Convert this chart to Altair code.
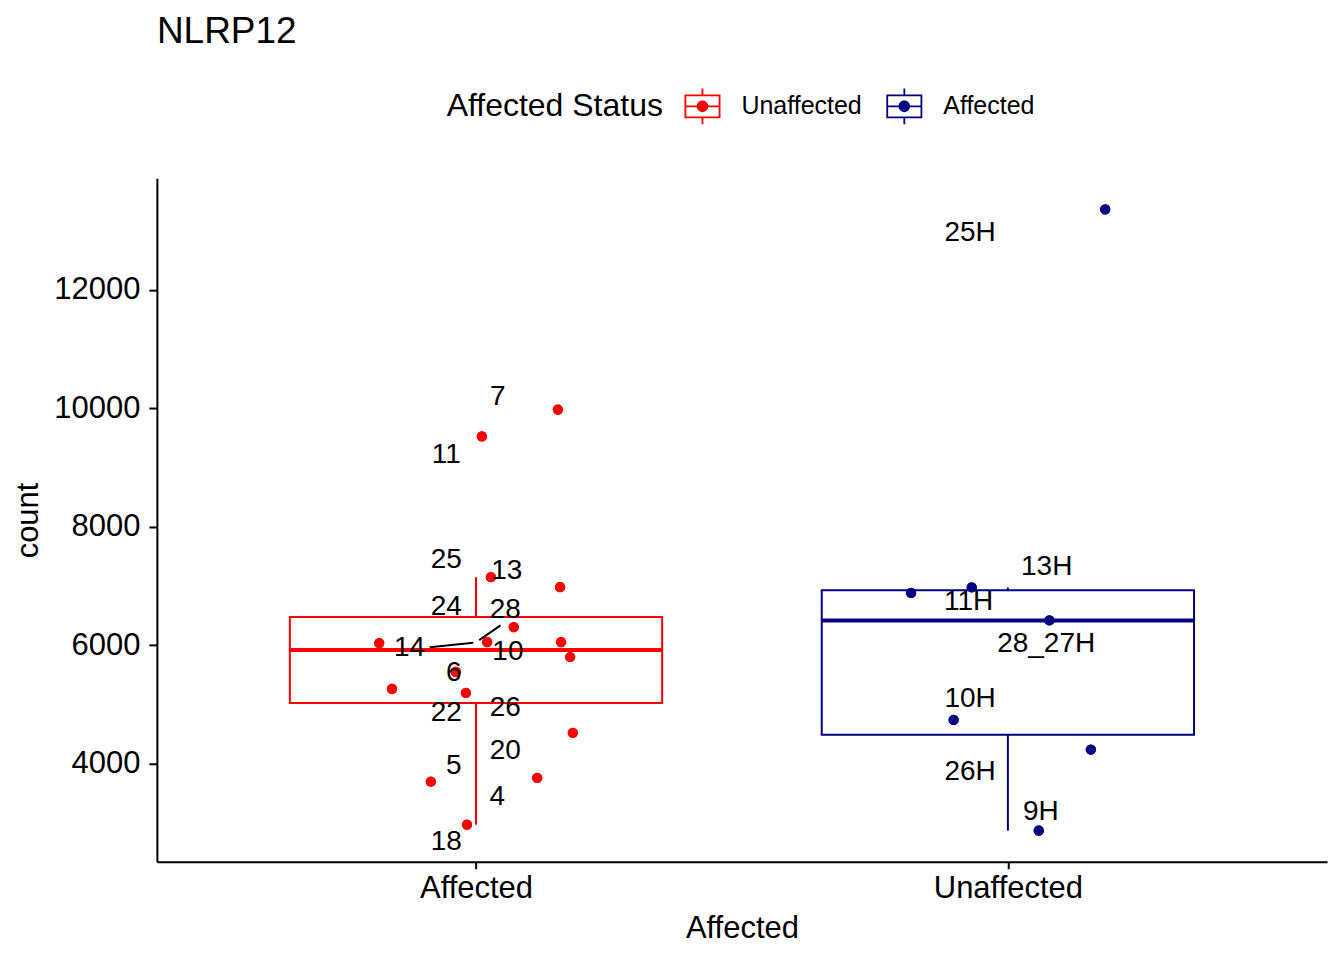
import altair as alt
import numpy as np
import pandas as pd

# ---------------- data ----------------
groups = ["Affected", "Unaffected"]          # x categories
status = ["Unaffected", "Affected"]          # legend value of each x group (as in reference)
colors = ["#FF0000", "#000080"]

red_counts = [9978, 9523, 7146, 6978, 6303, 6034, 6051, 6051, 5798, 5545, 5258, 5191, 4517, 3758, 3691, 2966]
red_jitter = [0.154, 0.011, 0.028, 0.158, 0.071, -0.182, 0.021, 0.160, 0.177, -0.038, -0.158, -0.019, 0.182, 0.115, -0.085, -0.017]

blue_counts = [13360, 6881, 6973, 6416, 4736, 4235, 2865]
blue_jitter = [0.183, -0.182, -0.068, 0.078, -0.102, 0.156, 0.058]

red_labels = ["7", "11", "25", "13", "24", "28", "14", "10", "6", "22", "26", "20", "5", "4", "18"]
red_label_dx = [0.041, -0.056, -0.056, 0.058, -0.056, 0.055, -0.125, 0.060, -0.042, -0.056, 0.055, 0.055, -0.042, 0.040, -0.056]
red_label_y = [10185, 9211, 7433, 7247, 6640, 6585, 5944, 5887, 5533, 4859, 4933, 4218, 3949, 3433, 2666]

blue_labels = ["25H", "13H", "11H", "28_27H", "10H", "26H", "9H"]
blue_label_dx = [-0.071, 0.073, -0.074, 0.072, -0.071, -0.071, 0.062]
blue_label_y = [12966, 7320, 6720, 6013, 5090, 3848, 3173]

# repel segments (label end -> point end), group "Affected"
seg_dx1 = [-0.087, 0.006]
seg_y1 = [5961, 6084]
seg_dx2 = [-0.005, 0.046]
seg_y2 = [6039, 6332]

# ---------------- tables ----------------
counts_by_group = [red_counts, blue_counts]
jitter_by_group = [red_jitter, blue_jitter]

pts = pd.DataFrame({
    "group": [groups[g] for g in range(2) for _ in counts_by_group[g]],
    "status": [status[g] for g in range(2) for _ in counts_by_group[g]],
    "x": [g + 1 + j for g in range(2) for j in jitter_by_group[g]],
    "count": [c for g in range(2) for c in counts_by_group[g]],
})

labs = pd.DataFrame({
    "label": red_labels + blue_labels,
    "x": [1 + d for d in red_label_dx] + [2 + d for d in blue_label_dx],
    "y": red_label_y + blue_label_y,
})

segs = pd.DataFrame({
    "x": [1 + d for d in seg_dx1], "y": seg_y1,
    "x2": [1 + d for d in seg_dx2], "y2": seg_y2,
})

rows = []
for g in range(2):
    v = np.array(counts_by_group[g], dtype=float)
    q1, med, q3 = np.percentile(v, [25, 50, 75])
    iqr = q3 - q1
    lo = v[v >= q1 - 1.5 * iqr].min()
    hi = v[v <= q3 + 1.5 * iqr].max()
    rows.append(dict(status=status[g], pos=g + 1, left=g + 1 - 0.35, right=g + 1 + 0.35,
                     q1=q1, med=med, q3=q3, lo=lo, hi=hi))
box = pd.DataFrame(rows)

allv = np.array(red_counts + blue_counts, dtype=float)
span = allv.max() - allv.min()
ydom = [allv.min() - 0.05 * span, allv.max() + 0.05 * span]

FONT = "Liberation Sans"

xscale = alt.Scale(domain=[0.4, 2.6], nice=False, zero=False)
yscale = alt.Scale(domain=ydom, nice=False, zero=False)
cscale = alt.Scale(domain=status, range=colors)

xaxis = alt.Axis(values=[1, 2], labelExpr="datum.value == 1 ? 'Affected' : 'Unaffected'",
                 title="Affected", labelAngle=0, tickSize=7, tickWidth=2, domainWidth=2,
                 labelPadding=5, titlePadding=10, grid=False)
yaxis = alt.Axis(values=[4000, 6000, 8000, 10000, 12000], format="d", title="count",
                 tickSize=8, tickWidth=2, domainWidth=2, labelPadding=9, titlePadding=9, grid=False)

GLYPH = ("M-1,-0.658H1V0.658H-1Z"
         "M-0.9,-0.558V0.558H0.9V-0.558Z"
         "M-0.9,-0.05H0.9V0.05H-0.9Z"
         "M-0.05,-0.99H0.05V-0.658H-0.05Z"
         "M-0.05,0.658H0.05V0.99H-0.05Z"
         "M-0.32,0A0.32,0.32,0,1,1,0.32,0A0.32,0.32,0,1,1,-0.32,0Z")

legend = alt.Legend(title="Affected Status", orient="none", legendX=290, legendY=-90,
                    direction="horizontal", titleOrient="left", titleFontSize=32,
                    titleFontWeight="normal", titleColor="black", titlePadding=21,
                    titleBaseline="middle", titleAnchor="middle", titleLimit=600,
                    labelFontSize=25, labelColor="black", labelOffset=21, columnPadding=24,
                    labelLimit=400,
                    symbolType=GLYPH, symbolSize=1296, symbolStrokeWidth=0, symbolOpacity=1)


def X(f):
    return alt.X(f, scale=xscale, axis=xaxis)


def Y(f):
    return alt.Y(f, scale=yscale, axis=yaxis)


col = alt.Color("status:N", scale=cscale, legend=legend)

points_under = alt.Chart(pts).mark_circle(size=105, opacity=1).encode(
    x=X("x:Q"), y=Y("count:Q"), color=col)

wlo = alt.Chart(box).mark_rule(strokeWidth=2).encode(
    x=X("pos:Q"), y=Y("lo:Q"), y2="q1:Q", color=col)
whi = alt.Chart(box).mark_rule(strokeWidth=2).encode(
    x=X("pos:Q"), y=Y("q3:Q"), y2="hi:Q", color=col)
rect = alt.Chart(box).mark_rect(filled=False, strokeWidth=2).encode(
    x=X("left:Q"), x2="right:Q", y=Y("q1:Q"), y2="q3:Q", color=col)
medl = alt.Chart(box).mark_rule(strokeWidth=4).encode(
    x=X("left:Q"), x2="right:Q", y=Y("med:Q"), color=col)

points = alt.Chart(pts).mark_circle(size=105, opacity=1).encode(
    x=X("x:Q"), y=Y("count:Q"), color=col)

segl = alt.Chart(segs).mark_rule(color="black", strokeWidth=2).encode(
    x=X("x:Q"), x2="x2:Q", y=Y("y:Q"), y2="y2:Q")

text = alt.Chart(labs).mark_text(fontSize=28, font=FONT, color="black", align="center",
                                 baseline="middle").encode(
    x=X("x:Q"), y=Y("y:Q"), text="label:N")

chart = alt.layer(points_under, wlo, whi, rect, medl, points, segl, text).properties(
    width=1171, height=684,
    title=alt.TitleParams("NLRP12", anchor="start", frame="group", fontSize=37,
                          fontWeight="normal", color="black", font=FONT, offset=8,
                          baseline="alphabetic"),
    autosize=alt.AutoSizeParams(type="none"),
    padding={"left": 149, "top": 170, "right": 9, "bottom": 95},
).configure(font=FONT).configure_view(stroke=None).configure_axis(
    labelFont=FONT, titleFont=FONT, labelFontSize=31, titleFontSize=31,
    labelColor="black", titleColor="black", tickColor="black", domainColor="black",
    titleFontWeight="normal").configure_legend(labelFont=FONT, titleFont=FONT)

chart.save("out.html", embed_options={"renderer": "svg", "actions": False})
